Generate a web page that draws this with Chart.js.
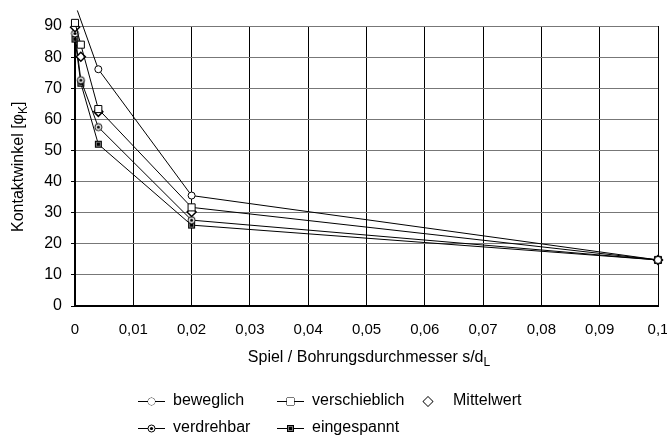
<!DOCTYPE html>
<html>
<head>
<meta charset="utf-8">
<script src="https://cdn.jsdelivr.net/npm/chart.js@4.4.1/dist/chart.umd.min.js"></script>
<style>
  body { margin: 0; background: #fff; }
  canvas { display: block; }
</style>
</head>
<body>
<canvas id="kontaktChart" width="667" height="437"></canvas>
<script>
// Spiel / Bohrungsdurchmesser (x) und Kontaktwinkel (y)
const spiel = [0, 0.001, 0.004, 0.02, 0.1];
const spielBeweglich = [0.0004, 0.004, 0.02, 0.1];
const beweglich = [95, 76.1, 35.5, 14.8];
const verschieblich = [91, 84, 63.3, 31.7, 14.8];
const mittelwert = [89.6, 80.1, 62.4, 30.2, 14.8];
const verdrehbar = [87.6, 72.6, 57.5, 27.6, 14.8];
const eingespannt = [85.8, 71.6, 52, 26, 14.8];

const xTicks = [0, 0.01, 0.02, 0.03, 0.04, 0.05, 0.06, 0.07, 0.08, 0.09, 0.1];
const yTicks = [0, 10, 20, 30, 40, 50, 60, 70, 80, 90];

const FONT = '"Liberation Sans", Arial, sans-serif';

function marker(draw) {
  const c = document.createElement('canvas');
  c.width = 11;
  c.height = 11;
  draw(c.getContext('2d'));
  return c;
}

const circleDot = marker(g => {
  g.beginPath();
  g.arc(5.5, 5.5, 3.5, 0, Math.PI * 2);
  g.fillStyle = '#fff';
  g.fill();
  g.strokeStyle = '#000';
  g.lineWidth = 1;
  g.stroke();
  g.beginPath();
  g.arc(5.5, 5.5, 1.6, 0, Math.PI * 2);
  g.fillStyle = '#000';
  g.fill();
});

const squareFilled = marker(g => {
  g.fillStyle = '#777';
  g.fillRect(2, 2, 7, 7);
  g.strokeStyle = '#000';
  g.lineWidth = 1;
  g.strokeRect(2.5, 2.5, 6, 6);
  g.fillStyle = '#000';
  g.fillRect(4, 4, 3, 3);
});

const toPoints = (xs, ys) => xs.map((x, i) => ({ x: x, y: ys[i] }));

const datasets = [
  {
    label: 'beweglich',
    data: toPoints(spielBeweglich, beweglich),
    pointStyle: 'circle',
    pointRadius: [0, 3.5, 3.5, 3.5],
    pointBackgroundColor: '#fff'
  },
  {
    label: 'verschieblich',
    data: toPoints(spiel, verschieblich),
    pointStyle: 'rect',
    pointRadius: 5,
    pointBackgroundColor: '#fff'
  },
  {
    label: 'Mittelwert',
    data: toPoints(spiel, mittelwert),
    pointStyle: 'rectRot',
    pointRadius: 4.5,
    pointBorderWidth: 1.5,
    pointBackgroundColor: '#fff',
    showLine: false
  },
  {
    label: 'verdrehbar',
    data: toPoints(spiel, verdrehbar),
    pointStyle: circleDot,
    pointRadius: 4
  },
  {
    label: 'eingespannt',
    data: toPoints(spiel, eingespannt),
    pointStyle: squareFilled,
    pointRadius: 4
  }
].map(ds => Object.assign({
  borderColor: '#000',
  borderWidth: 1,
  pointBorderColor: '#000',
  pointBorderWidth: 1,
  tension: 0,
  clip: false
}, ds));

// axis titles with subscripts
const titlePlugin = {
  id: 'titles',
  afterDraw(chart) {
    const ctx = chart.ctx;
    const area = chart.chartArea;
    ctx.save();
    ctx.fillStyle = '#000';
    ctx.textBaseline = 'alphabetic';

    function drawSub(main, sub, cx, baseY) {
      ctx.font = '16px ' + FONT;
      const w1 = ctx.measureText(main).width;
      ctx.font = '12px ' + FONT;
      const w2 = ctx.measureText(sub).width;
      const start = cx - (w1 + w2) / 2;
      ctx.font = '16px ' + FONT;
      ctx.textAlign = 'left';
      ctx.fillText(main, start, baseY);
      ctx.font = '12px ' + FONT;
      ctx.fillText(sub, start + w1, baseY + 4);
      return start + w1 + w2;
    }

    drawSub('Spiel / Bohrungsdurchmesser s/d', 'L', 369, 362);

    ctx.save();
    ctx.translate(23, (area.top + area.bottom) / 2);
    ctx.rotate(-Math.PI / 2);
    const end = drawSub('Kontaktwinkel [\u03c6', 'K', -3, 0);
    ctx.font = '16px ' + FONT;
    ctx.fillText(']', end, 0);
    ctx.restore();

    ctx.restore();
  }
};

// two-row legend like the original
const legendPlugin = {
  id: 'rowLegend',
  afterDraw(chart) {
    const ctx = chart.ctx;
    const slots = [
      { x: 138, y: 401 },
      { x: 277, y: 401 },
      { x: 420, y: 401 },
      { x: 138, y: 428 },
      { x: 277, y: 428 }
    ];
    ctx.save();
    ctx.font = '16px ' + FONT;
    ctx.textBaseline = 'middle';
    ctx.textAlign = 'left';
    chart.data.datasets.forEach((ds, i) => {
      const s = slots[i];
      let mx, tx;
      if (ds.showLine === false) {
        mx = s.x + 8;
        tx = s.x + 33;
      } else {
        ctx.strokeStyle = '#000';
        ctx.lineWidth = 1;
        ctx.beginPath();
        ctx.moveTo(s.x, s.y + 0.5);
        ctx.lineTo(s.x + 27, s.y + 0.5);
        ctx.stroke();
        mx = s.x + 13.5;
        tx = s.x + 35;
      }
      const r = Array.isArray(ds.pointRadius) ? ds.pointRadius[1] : ds.pointRadius;
      ctx.fillStyle = ds.pointBackgroundColor || '#fff';
      ctx.strokeStyle = '#000';
      ctx.lineWidth = ds.pointBorderWidth;
      Chart.helpers.drawPoint(ctx, {
        pointStyle: ds.pointStyle,
        radius: r,
        borderWidth: ds.pointBorderWidth,
        rotation: 0
      }, mx, s.y + 0.5);
      if (typeof ds.pointStyle === 'string') {
        ctx.fill();
      }
      ctx.fillStyle = '#000';
      ctx.fillText(ds.label, tx, s.y);
    });
    ctx.restore();
  }
};

const ctx = document.getElementById('kontaktChart').getContext('2d');
const kontaktChart = new Chart(ctx, {
  type: 'line',
  data: { datasets: datasets },
  options: {
    responsive: false,
    animation: false,
    layout: { padding: { left: 0, top: 26, right: 9, bottom: 0 } },
    plugins: {
      legend: { display: false },
      tooltip: { enabled: false }
    },
    scales: {
      x: {
        type: 'linear',
        min: 0,
        max: 0.1,
        afterFit(scale) {
          scale.height = 131;
          scale.paddingLeft = 0;
          scale.paddingRight = 0;
        },
        afterBuildTicks(scale) { scale.ticks = xTicks.map(v => ({ value: v })); },
        ticks: {
          autoSkip: false,
          maxRotation: 0,
          padding: 15,
          color: '#000',
          font: { family: FONT, size: 15 },
          callback: v => String(Math.round(v * 1000) / 1000).replace('.', ',')
        },
        grid: { color: '#000', lineWidth: 1, drawTicks: false },
        border: { color: '#000', width: 2 }
      },
      y: {
        min: 0,
        max: 90,
        afterFit(scale) {
          scale.width = 75;
          scale.paddingTop = 0;
          scale.paddingBottom = 0;
        },
        afterBuildTicks(scale) { scale.ticks = yTicks.map(v => ({ value: v })); },
        ticks: {
          padding: 9,
          color: '#000',
          font: { family: FONT, size: 16 }
        },
        grid: { color: '#777', lineWidth: 1, tickLength: 4, tickColor: '#000' },
        border: { color: '#000', width: 2 }
      }
    }
  },
  plugins: [titlePlugin, legendPlugin]
});
</script>
</body>
</html>
